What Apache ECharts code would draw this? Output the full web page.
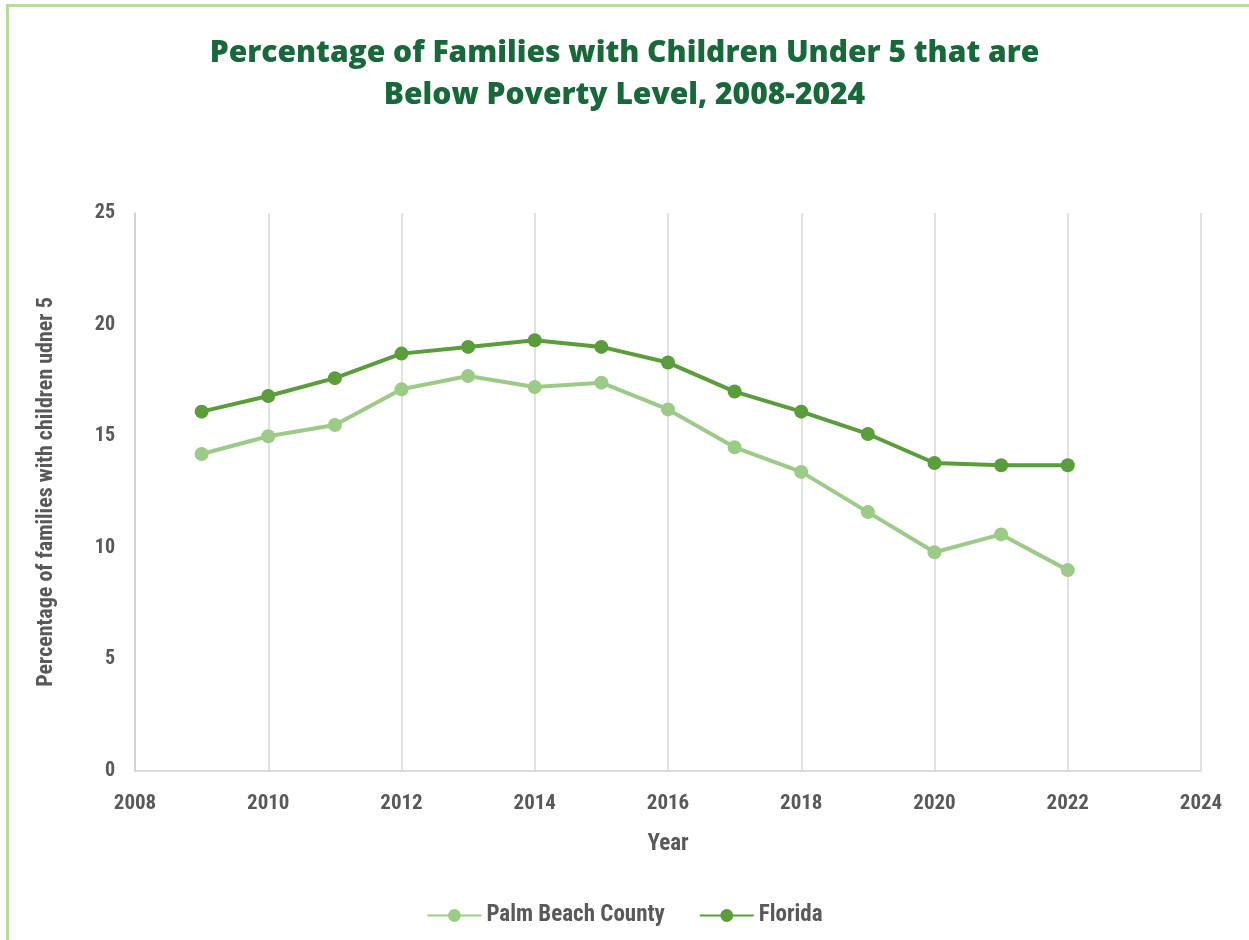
<!DOCTYPE html>
<html>
<head>
<meta charset="utf-8">
<script src="https://cdn.jsdelivr.net/npm/echarts@6/dist/echarts.min.js"></script>
<style>
  html, body { margin: 0; padding: 0; background: #fff; }
  #frame {
    position: absolute; left: 6px; top: 4px; width: 1243px; height: 936px;
    border-top: 3px solid #b7dc9c; border-left: 3px solid #b7dc9c;
    box-sizing: border-box;
  }
  #chart { position: absolute; left: 0; top: 0; width: 1249px; height: 940px; }
</style>
</head>
<body>
<div id="frame"></div>
<div id="chart"></div>
<script>
const years = [2009, 2010, 2011, 2012, 2013, 2014, 2015, 2016, 2017, 2018, 2019, 2020, 2021, 2022]
const palmBeach = [14.2, 15.0, 15.5, 17.1, 17.7, 17.2, 17.4, 16.2, 14.5, 13.4, 11.6, 9.8, 10.6, 9.0]
const florida = [16.1, 16.8, 17.6, 18.7, 19.0, 19.3, 19.0, 18.3, 17.0, 16.1, 15.1, 13.8, 13.7, 13.7]

const labelFont = "'Roboto Condensed', 'Liberation Sans Narrow', Roboto, sans-serif"
const gray = '#595959'

const pair = (vals) => years.map((y, i) => [y, vals[i]])

const mychart = echarts.init(document.getElementById('chart'))
mychart.setOption({
  animation: false,
  title: {
    text: 'Percentage of Families with Children Under 5 that are\nBelow Poverty Level, 2008-2024',
    left: 'center',
    top: 27,
    textStyle: {
      color: '#17693a',
      fontFamily: "'Open Sans', 'Noto Sans', sans-serif",
      fontWeight: 800,
      fontSize: 30,
      lineHeight: 42
    }
  },
  legend: {
    bottom: 8,
    left: 'center',
    itemWidth: 54,
    itemHeight: 16,
    itemGap: 34,
    textStyle: { color: gray, fontFamily: labelFont, fontWeight: 'bold', fontSize: 23 },
    data: ['Palm Beach County', 'Florida']
  },
  grid: { left: 135, right: 48, top: 213, bottom: 169, containLabel: false },
  xAxis: {
    type: 'value',
    min: 2008,
    max: 2024,
    interval: 2,
    name: 'Year',
    nameLocation: 'middle',
    nameGap: 62,
    nameTextStyle: { color: gray, fontFamily: labelFont, fontWeight: 'bold', fontSize: 23 },
    axisLine: { show: true, lineStyle: { color: '#cfcfcf', width: 1.5 } },
    axisTick: { show: false },
    splitLine: { show: true, lineStyle: { color: '#d9d9d9', width: 1.5 } },
    axisLabel: {
      color: gray, fontFamily: labelFont, fontWeight: 'bold', fontSize: 21, margin: 22,
      formatter: (v) => String(v)
    }
  },
  yAxis: {
    type: 'value',
    min: 0,
    max: 25,
    interval: 5,
    name: 'Percentage of families with children udner 5',
    nameLocation: 'middle',
    nameGap: 78,
    nameTextStyle: { color: gray, fontFamily: labelFont, fontWeight: 'bold', fontSize: 22 },
    axisLine: { show: true, lineStyle: { color: '#cfcfcf', width: 1.5 } },
    axisTick: { show: false },
    splitLine: { show: false },
    axisLabel: { color: gray, fontFamily: labelFont, fontWeight: 'bold', fontSize: 20, margin: 20 }
  },
  series: [
    {
      name: 'Palm Beach County',
      type: 'line',
      data: pair(palmBeach),
      symbol: 'circle',
      symbolSize: 14,
      color: '#9ccb88',
      lineStyle: { width: 4, color: '#9ccb88' },
      itemStyle: { color: '#9ccb88' }
    },
    {
      name: 'Florida',
      type: 'line',
      data: pair(florida),
      symbol: 'circle',
      symbolSize: 14,
      color: '#5a9d3b',
      lineStyle: { width: 4, color: '#5a9d3b' },
      itemStyle: { color: '#5a9d3b' }
    }
  ]
})
</script>
</body>
</html>
